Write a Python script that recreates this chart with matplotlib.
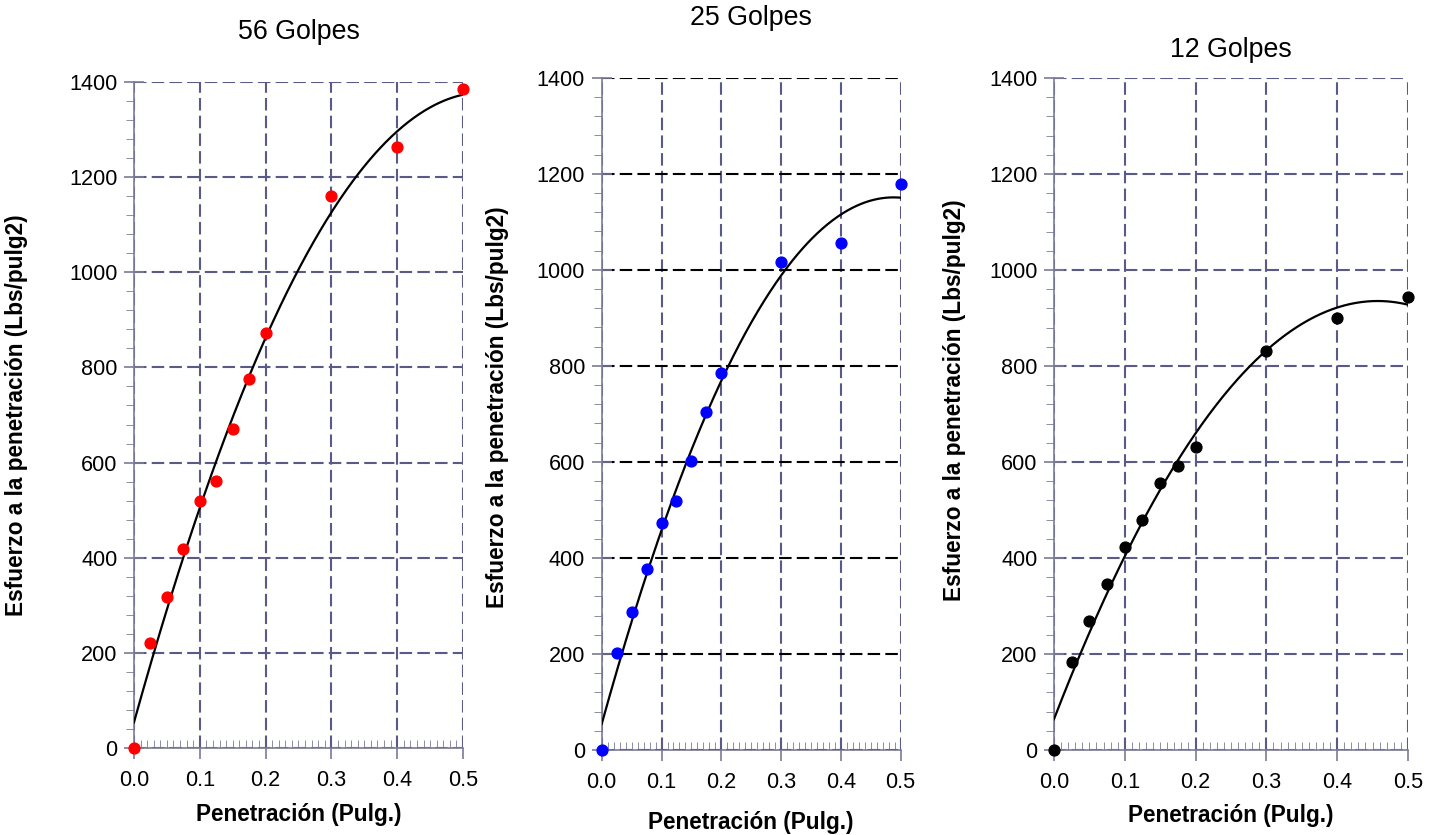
import numpy as np
import matplotlib.pyplot as plt
from matplotlib.ticker import MultipleLocator, FormatStrFormatter

plt.rcParams['font.family'] = ['Liberation Sans', 'DejaVu Sans']

# penetracion (pulg) y esfuerzo (lbs/pulg2) para cada energia de compactacion
pen = np.array([0, 0.025, 0.05, 0.075, 0.1, 0.125, 0.15, 0.175, 0.2, 0.3, 0.4, 0.5])
esf_56 = np.array([0, 220, 318, 418, 520, 561, 670, 775, 873, 1160, 1263, 1385])
esf_25 = np.array([0, 203, 288, 377, 473, 519, 602, 704, 785, 1016, 1055, 1178])
esf_12 = np.array([0, 184, 269, 346, 423, 479, 556, 592, 632, 832, 901, 944])

titulos = ['56 Golpes', '25 Golpes', '12 Golpes']
series = [esf_56, esf_25, esf_12]
colores = ['#ff0000', '#0000ff', '#000000']

# posicion de cada grafico y de sus textos
cajas = [[0.0929, 0.1042, 0.2282, 0.7976],
         [0.4173, 0.1018, 0.2073, 0.8051],
         [0.7309, 0.1018, 0.2455, 0.8048]]
pos_titulo = [1.075, 1.089, 1.042]
pos_xlabel = [-0.100, -0.108, -0.098]
pos_ylabel = [(-0.356, 0.50), (-0.350, 0.51), (-0.280, 0.52)]
color_hgrid = ['#5a5a88', '#000000', '#5a5a88']

gris = '#7a7a96'
guion = (0, (6, 2.5))
fig = plt.figure(figsize=(14.42, 8.35), dpi=100)

for i in range(3):
    ax = fig.add_axes(cajas[i])
    y = series[i]

    # linea de tendencia polinomica de 2do grado
    coef = np.polyfit(pen, y, 2)
    xs = np.linspace(0, 0.5, 300)
    ax.plot(xs, np.polyval(coef, xs), color='black', lw=1.6, zorder=3)
    ax.plot(pen, y, 'o', color=colores[i], ms=7.8, zorder=4, clip_on=False)

    ax.set_xlim(0, 0.5)
    ax.set_ylim(0, 1400)
    ax.xaxis.set_major_locator(MultipleLocator(0.1))
    ax.xaxis.set_minor_locator(MultipleLocator(0.01))
    ax.xaxis.set_major_formatter(FormatStrFormatter('%.1f'))
    ax.yaxis.set_major_locator(MultipleLocator(200))
    ax.yaxis.set_minor_locator(MultipleLocator(40))

    ax.grid(axis='x', color='#5a5a88', ls=guion, lw=1.5)
    ax.grid(axis='y', color=color_hgrid[i], ls=guion, lw=1.5)
    ax.set_axisbelow(True)

    for s in ['top', 'right']:
        ax.spines[s].set_visible(False)
    for s in ['left', 'bottom']:
        ax.spines[s].set_color(gris)
        ax.spines[s].set_linewidth(1.2)

    ax.tick_params(axis='both', which='major', labelsize=15.6, color=gris, width=1.2)
    ax.tick_params(axis='y', which='major', direction='inout', length=14, pad=5)
    ax.tick_params(axis='y', which='minor', direction='out', length=6, color=gris)
    ax.tick_params(axis='x', which='major', direction='out', length=8, pad=8)
    ax.tick_params(axis='x', which='minor', direction='in', length=6, color=gris)

    ax.text(0.5, pos_titulo[i], titulos[i], fontsize=19.3, ha='center', va='center',
            transform=ax.transAxes)
    ax.set_xlabel('Penetración (Pulg.)', fontsize=16.3, fontweight='bold', va='center')
    ax.xaxis.set_label_coords(0.5, pos_xlabel[i])
    ax.set_ylabel('Esfuerzo a la penetración (Lbs/pulg2)', fontsize=16.3,
                  fontweight='bold', va='center')
    ax.yaxis.set_label_coords(*pos_ylabel[i])

fig.savefig('out.png', dpi=100)
